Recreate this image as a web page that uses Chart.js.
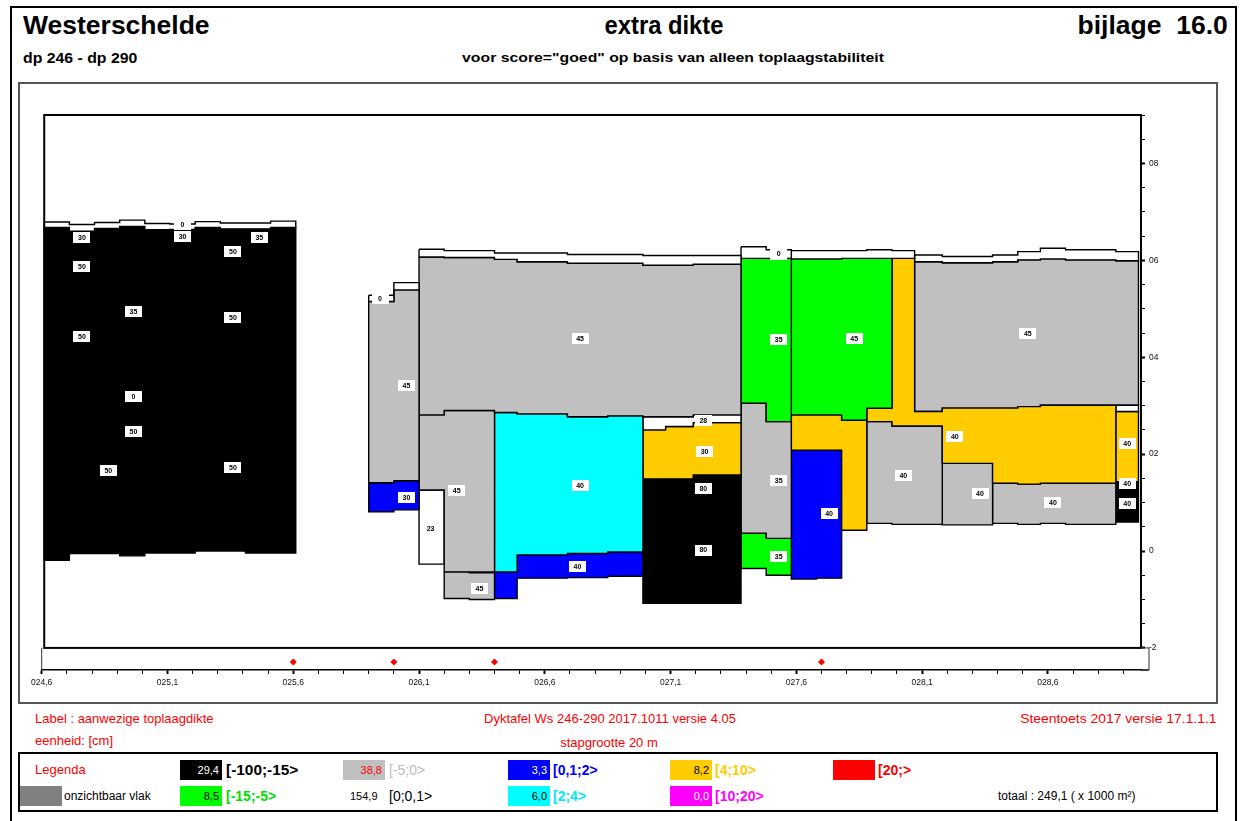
<!DOCTYPE html>
<html>
<head>
<meta charset="utf-8">
<script src="https://cdn.jsdelivr.net/npm/chart.js@4.4.1/dist/chart.umd.min.js"></script>
<style>
html,body{margin:0;padding:0;background:#fff;width:1243px;height:821px;overflow:hidden;font-family:"Liberation Sans",Arial,sans-serif;}
.t{position:absolute;white-space:nowrap;line-height:1;}
.box{position:absolute;box-sizing:border-box;}
.sw{position:absolute;width:42px;height:20px;line-height:20px;font-size:11px;text-align:right;padding-right:3px;box-sizing:border-box;}
.lg{position:absolute;white-space:nowrap;line-height:20px;height:20px;font-size:14px;font-weight:bold;}
#c{position:absolute;left:0;top:0;z-index:2;}
</style>
</head>
<body>
<div class="box" style="left:10px;top:6px;width:1227px;height:900px;border:2px solid #000;"></div>
<div class="t" style="left:23px;top:13px;font-size:25px;font-weight:bold;transform:scaleX(1.06);transform-origin:left center;">Westerschelde</div>
<div class="t" style="left:664px;top:13px;font-size:25px;font-weight:bold;transform:translateX(-50%) scaleX(0.95);">extra dikte</div>
<div class="t" style="right:15px;top:13px;font-size:25px;font-weight:bold;transform:scaleX(1.06);transform-origin:right center;">bijlage&nbsp; 16.0</div>
<div class="t" style="left:23px;top:51px;font-size:14px;font-weight:bold;transform:scaleX(1.13);transform-origin:left center;">dp 246 - dp 290</div>
<div class="t" style="left:673px;top:51px;font-size:13.5px;font-weight:bold;transform:translateX(-50%) scaleX(1.17);">voor score="goed" op basis van alleen toplaagstabiliteit</div>
<div class="box" style="left:18px;top:82px;width:1200px;height:622px;border:2px solid #555;"></div>

<div class="t" style="left:35px;top:712px;font-size:13px;color:#f00;">Label : aanwezige toplaagdikte</div>
<div class="t" style="left:35px;top:734px;font-size:13px;color:#f00;">eenheid: [cm]</div>
<div class="t" style="left:610px;top:712px;font-size:13px;color:#f00;transform:translateX(-50%);">Dyktafel Ws 246-290 2017.1011 versie 4.05</div>
<div class="t" style="left:609px;top:736px;font-size:13px;color:#f00;transform:translateX(-50%);">stapgrootte 20 m</div>
<div class="t" style="right:26px;top:712px;font-size:13px;color:#f00;transform:scaleX(1.07);transform-origin:right center;">Steentoets 2017 versie 17.1.1.1</div>

<div class="box" style="left:18px;top:752px;width:1200px;height:60px;border:2px solid #000;"></div>
<div class="lg" style="left:35px;top:760px;color:#f00;font-weight:normal;font-size:13px;">Legenda</div>
<div class="sw" style="left:180px;top:760px;background:#000;color:#fff;">29,4</div>
<div class="lg" style="left:226px;top:760px;color:#000;transform:scaleX(1.1);transform-origin:left center;">[-100;-15&gt;</div>
<div class="sw" style="left:343px;top:760px;background:#c0c0c0;color:#f00;">38,8</div>
<div class="lg" style="left:389px;top:760px;color:#bdbdbd;font-weight:normal;">[-5;0&gt;</div>
<div class="sw" style="left:508px;top:760px;background:#0000ff;color:#fff;">3,3</div>
<div class="lg" style="left:553px;top:760px;color:#0000ff;">[0,1;2&gt;</div>
<div class="sw" style="left:670px;top:760px;background:#ffcc00;color:#000;">8,2</div>
<div class="lg" style="left:715px;top:760px;color:#ffcc00;">[4;10&gt;</div>
<div class="sw" style="left:833px;top:760px;background:#ff0000;"></div>
<div class="lg" style="left:878px;top:760px;color:#f00;">[20;&gt;</div>

<div class="sw" style="left:20px;top:786px;background:#808080;"></div>
<div class="lg" style="left:64px;top:786px;color:#000;font-weight:normal;font-size:12px;">onzichtbaar vlak</div>
<div class="sw" style="left:180px;top:786px;background:#00ff00;color:#000;">8,5</div>
<div class="lg" style="left:226px;top:786px;color:#00dd00;">[-15;-5&gt;</div>
<div class="lg" style="left:350px;top:786px;color:#000;font-weight:normal;font-size:11px;">154,9</div>
<div class="lg" style="left:389px;top:786px;color:#000;font-weight:normal;">[0;0,1&gt;</div>
<div class="sw" style="left:508px;top:786px;background:#00ffff;color:#000;">6,0</div>
<div class="lg" style="left:553px;top:786px;color:#00e8ff;">[2;4&gt;</div>
<div class="sw" style="left:670px;top:786px;background:#ff00ff;color:#fff;">0,0</div>
<div class="lg" style="left:715px;top:786px;color:#ff00ff;">[10;20&gt;</div>
<div class="lg" style="left:998px;top:786px;color:#000;font-weight:normal;font-size:12px;">totaal : 249,1 ( x 1000 m²)</div>

<canvas id="c" width="1243" height="821"></canvas>

<script>
// ---------- DATA (x in km along the dike, y in m) ----------
// axis tick labels
const xTickLabels = ['024,6','025,1','025,6','026,1','026,6','027,1','027,6','028,1','028,6'];
const yTickLabels = {'-2':'-2','0':'0','2':'02','4':'04','6':'06','8':'08'};

// class colours: k [-100;-15>, g [-15;-5>, s [-5;0>, w [0;0,1>, b [0,1;2>, c [2;4>, o [4;10>, m [10;20>, r [20;>
const classColors = {k:'#000000', g:'#00ff00', s:'#c0c0c0', w:'#ffffff', b:'#0000ff', c:'#00ffff', o:'#ffcc00', m:'#ff00ff', r:'#ff0000'};

// blocks: column boundaries, layer top per column, layer bottom per column
const leftX      = [24.61, 24.71, 24.81, 24.91, 25.01, 25.11, 25.21, 25.31, 25.41, 25.51, 25.61];
const leftWTop   = [6.79, 6.74, 6.78, 6.83, 6.76, 6.75, 6.80, 6.77, 6.77, 6.81];
const leftKTop   = [6.68, 6.60, 6.66, 6.70, 6.63, 6.64, 6.68, 6.65, 6.65, 6.68];
const leftKBot   = [-0.19, -0.05, -0.05, -0.10, -0.04, -0.04, 0.00, 0.00, -0.04, -0.04];
const innerWX    = [24.92, 25.00];
const innerWTop  = [3.34];
const innerWBot  = [3.27];

const smallX     = [25.90, 26.00, 26.10];
const smallWTop  = [5.28, 5.54];
const smallSTop  = [5.15, 5.39];
const smallBTop  = [1.41, 1.45];
const smallBBot  = [0.81, 0.85];

const midX       = [26.10, 26.20, 26.40, 26.49, 26.69, 26.85, 26.99, 27.19, 27.38];
const midWTop    = [6.23, 6.20, 6.15, 6.15, 6.12, 6.12, 6.10, 6.10];
const midSTop    = [6.07, 6.06, 6.02, 5.97, 5.94, 5.94, 5.90, 5.92];
const midSBot    = [2.81, 2.90, 2.86, 2.83, 2.77, 2.79, 2.77, 2.81];

const lowLX      = [26.10, 26.20, 26.40];
const lowLTop    = [2.81, 2.90];
const lowLBot    = [1.26, -0.43];
const w23X       = [26.10, 26.20];
const w23Top     = [1.26];
const w23Bot     = [-0.27];
const lowBX      = [26.20, 26.30, 26.40];
const lowBTop    = [-0.43, -0.45];
const lowBBot    = [-0.98, -1.00];

const cyanX      = [26.40, 26.49, 26.69, 26.85, 26.99];
const cyanTop    = [2.86, 2.83, 2.77, 2.79];
const cyanBot    = [-0.43, -0.08, -0.05, -0.02];
const blueMBot   = [-0.98, -0.56, -0.55, -0.52];

const r1X        = [26.99, 27.08, 27.19, 27.38];
const r1WTop     = [2.77, 2.77, 2.81];
const r1OTop     = [2.50, 2.57, 2.65];
const r1OBot     = [1.49, 1.49, 1.57];
const r1KX       = [26.99, 27.19, 27.38];
const r1KTop     = [1.49, 1.57];
const r1KBot     = [-1.08, -1.08];

const gaX        = [27.38, 27.48, 27.58];
const gaWTop     = [6.28, 6.22];
const gaGTop     = [6.04, 6.04];
const gaGBot     = [3.05, 2.67];
const gaSBot     = [0.37, 0.26];
const gaG2Bot    = [-0.36, -0.50];

const gbWX       = [27.58, 27.78, 27.88, 27.98, 28.07];
const gbWTop     = [6.20, 6.20, 6.22, 6.20];
const gbWBot     = [6.03, 6.04, 6.04, 6.04];
const gbX        = [27.58, 27.78, 27.88, 27.98];
const gbTop      = [6.03, 6.04, 6.04];
const gbBot      = [2.81, 2.70, 2.95];

const orX        = [27.58, 27.78, 27.88, 27.98, 28.07, 28.18, 28.38, 28.48, 28.57, 28.87];
const orTop      = [2.81, 2.70, 2.95, 6.04, 2.88, 2.95, 2.95, 2.98, 3.01];
const orBot      = [2.08, 0.43, 2.67, 2.58, 2.58, 1.81, 1.40, 1.38, 1.40];
const bbX        = [27.58, 27.68, 27.78];
const bbTop      = [2.08, 2.08];
const bbBot      = [-0.58, -0.56];

const g1X        = [27.88, 27.98, 28.18];
const g1Top      = [2.67, 2.58];
const g1Bot      = [0.57, 0.55];
const g2X        = [28.18, 28.38];
const g2Top      = [1.81];
const g2Bot      = [0.54];
const g3X        = [28.38, 28.48, 28.57, 28.67, 28.87];
const g3Top      = [1.40, 1.38, 1.40, 1.40];
const g3Bot      = [0.57, 0.55, 0.57, 0.55];

const edgeX      = [28.87, 28.96];
const edgeWTop   = [3.01];
const edgeOTop   = [2.88];
const edgeKTop   = [1.43];
const edgeKBot   = [0.60];

const rightX     = [28.07, 28.18, 28.38, 28.48, 28.57, 28.67, 28.87, 28.96];
const rightWTop  = [6.11, 6.08, 6.11, 6.18, 6.25, 6.22, 6.18];
const rightSTop  = [5.97, 5.95, 5.97, 6.01, 6.03, 6.01, 5.99];
const rightSBot  = [2.88, 2.95, 2.95, 2.98, 3.01, 3.01, 3.01];

// which block uses which arrays: [class, xs, tops, bottoms]
const blocks = [
  ['w', leftX, leftWTop, leftKTop], ['k', leftX, leftKTop, leftKBot], ['w', innerWX, innerWTop, innerWBot],
  ['w', smallX, smallWTop, smallSTop], ['s', smallX, smallSTop, smallBTop], ['b', smallX, smallBTop, smallBBot],
  ['w', midX, midWTop, midSTop], ['s', midX, midSTop, midSBot],
  ['s', lowLX, lowLTop, lowLBot], ['w', w23X, w23Top, w23Bot], ['s', lowBX, lowBTop, lowBBot],
  ['c', cyanX, cyanTop, cyanBot], ['b', cyanX, cyanBot, blueMBot],
  ['w', r1X, r1WTop, r1OTop], ['o', r1X, r1OTop, r1OBot], ['k', r1KX, r1KTop, r1KBot],
  ['w', gaX, gaWTop, gaGTop], ['g', gaX, gaGTop, gaGBot], ['s', gaX, gaGBot, gaSBot], ['g', gaX, gaSBot, gaG2Bot],
  ['w', gbWX, gbWTop, gbWBot], ['g', gbX, gbTop, gbBot],
  ['o', orX, orTop, orBot], ['b', bbX, bbTop, bbBot],
  ['s', g1X, g1Top, g1Bot], ['s', g2X, g2Top, g2Bot], ['s', g3X, g3Top, g3Bot],
  ['w', edgeX, edgeWTop, edgeOTop], ['o', edgeX, edgeOTop, edgeKTop], ['k', edgeX, edgeKTop, edgeKBot],
  ['w', rightX, rightWTop, rightSTop], ['s', rightX, rightSTop, rightSBot]
];

// labels (aanwezige toplaagdikte in cm)
const labelText = ['30','50','50','35','0','50','50','0','30','50','35','50','50',
  '0','45','30',
  '45','23','45','45','40','40','28','30','80','80',
  '0','35','35','35',
  '45','40',
  '40','40','40','40','45','40','40','40'];
const labelX = [24.76,24.76,24.76,24.965,24.965,24.965,24.865,25.16,25.16,25.36,25.465,25.36,25.36,
  25.945,26.05,26.05,
  26.74,26.146,26.25,26.34,26.74,26.73,27.23,27.235,27.23,27.23,
  27.53,27.53,27.53,27.53,
  27.83,27.73,
  28.23,28.025,28.33,28.62,28.52,28.915,28.915,28.915];
const labelY = [6.48,5.88,4.42,4.95,3.18,2.46,1.67,6.73,6.50,6.19,6.48,4.81,1.73,
  5.22,3.41,1.10,
  4.38,0.47,1.24,-0.77,1.36,-0.32,2.70,2.06,1.29,0.02,
  6.13,4.36,1.45,-0.12,
  4.38,0.78,
  2.37,1.55,1.18,1.00,4.49,2.22,1.40,0.98];

// red markers along the axis
const markerX = [25.6, 26.0, 26.4, 27.7];

// ---------- CHART ----------
function stepPolygon(xs, tops, bots) {
  const pts = [];
  for (let i = 0; i < tops.length; i++) { pts.push({x: xs[i], y: tops[i]}); pts.push({x: xs[i + 1], y: tops[i]}); }
  for (let i = bots.length - 1; i >= 0; i--) { pts.push({x: xs[i + 1], y: bots[i]}); pts.push({x: xs[i], y: bots[i]}); }
  pts.push({x: pts[0].x, y: pts[0].y});
  return pts;
}

const datasets = blocks.map(b => ({
  data: stepPolygon(b[1], b[2], b[3]),
  fill: 'shape',
  backgroundColor: classColors[b[0]],
  borderColor: '#000',
  borderWidth: 1.4,
  borderJoinStyle: 'miter',
  pointRadius: 0, pointHoverRadius: 0, pointHitRadius: 0,
  tension: 0
}));
const MARKER_LEVEL = -2.29;
datasets.unshift({
  data: markerX.map(v => ({x: v, y: MARKER_LEVEL})),
  showLine: false, fill: false,
  pointStyle: 'rectRot', pointRadius: 3.5,
  pointBackgroundColor: '#ff0000', pointBorderColor: '#ff0000', pointBorderWidth: 0
});

const FONT = '"Liberation Sans", Arial, sans-serif';
const xTickValues = [];
for (let i = 0; i <= 43; i++) xTickValues.push(Math.round((24.6 + i * 0.1) * 10) / 10);
const yTickValues = [];
for (let i = 0; i <= 22; i++) yTickValues.push(-2 + i * 0.5);

const framePlugin = {
  id: 'frame',
  afterDatasetsDraw(chart) {
    const {ctx, chartArea, scales: {x, y}} = chart;
    const l = x.getPixelForValue(24.61), r = chartArea.right;
    const t = y.getPixelForValue(9), b = y.getPixelForValue(-2);
    ctx.save();
    ctx.strokeStyle = '#000';
    ctx.lineWidth = 2;
    ctx.strokeRect(l, t, r - l, b - t);
    ctx.lineWidth = 1;
    ctx.strokeStyle = '#333';
    const ax = x.getPixelForValue(24.6);
    ctx.beginPath();
    ctx.moveTo(ax, b); ctx.lineTo(ax, chartArea.bottom);
    ctx.moveTo(r, b); ctx.lineTo(r + 8, b); ctx.lineTo(r + 8, chartArea.bottom);
    ctx.stroke();
    ctx.lineWidth = 1.5; ctx.strokeStyle = '#000';
    ctx.beginPath(); ctx.moveTo(r, chartArea.bottom); ctx.lineTo(r + 8, chartArea.bottom); ctx.stroke();
    ctx.restore();
  }
};

const labelPlugin = {
  id: 'blockLabels',
  afterDatasetsDraw(chart) {
    const {ctx, scales: {x, y}} = chart;
    ctx.save();
    ctx.font = 'bold 7px ' + FONT;
    ctx.textAlign = 'center';
    ctx.textBaseline = 'middle';
    labelText.forEach((txt, i) => {
      const px = x.getPixelForValue(labelX[i]);
      const py = y.getPixelForValue(labelY[i]);
      const w = 17, h = 11;
      ctx.fillStyle = '#fff';
      ctx.fillRect(Math.round(px - w / 2), Math.round(py - h / 2), w, h);
      ctx.fillStyle = '#000';
      ctx.fillText(txt, px, py + 0.5);
    });
    ctx.restore();
  }
};

new Chart(document.getElementById('c'), {
  type: 'line',
  data: {datasets},
  options: {
    responsive: false,
    animation: false,
    events: [],
    layout: {padding: {left: 41.7, top: 115, right: 62, bottom: 121}},
    plugins: {legend: {display: false}, tooltip: {enabled: false}, title: {display: false}},
    scales: {
      x: {
        type: 'linear', position: 'bottom', min: 24.6, max: 28.97, bounds: 'data',
        afterBuildTicks: s => { s.ticks = xTickValues.map(v => ({value: v})); },
        afterFit: s => { s.height = 30; },
        grid: {drawOnChartArea: false, drawTicks: true, tickLength: 4, tickColor: '#000',
               tickWidth: c => (c.index % 5 === 0 ? 2 : 1)},
        border: {display: true, color: '#000', width: 1.5},
        ticks: {autoSkip: false, maxRotation: 0, minRotation: 0, padding: 4, color: '#111',
                font: {size: 8.5, family: FONT},
                callback: (v, i) => (i % 5 === 0 ? xTickLabels[i / 5] : '')}
      },
      y: {
        type: 'linear', position: 'right', min: -2.456, max: 9, bounds: 'data',
        afterBuildTicks: s => { s.ticks = yTickValues.map(v => ({value: v})); },
        afterFit: s => { s.width = 40; },
        grid: {drawOnChartArea: false, drawTicks: true, tickLength: 4, tickColor: '#000',
               tickWidth: c => (Number.isInteger(c.tick && c.tick.value) && c.tick.value % 2 === 0 ? 2 : 1)},
        border: {display: false},
        ticks: {autoSkip: false, padding: 4, color: '#111', font: {size: 8.5, family: FONT},
                callback: v => (yTickLabels[String(v)] !== undefined ? yTickLabels[String(v)] : '')}
      }
    }
  },
  plugins: [framePlugin, labelPlugin]
});
</script>
</body>
</html>
